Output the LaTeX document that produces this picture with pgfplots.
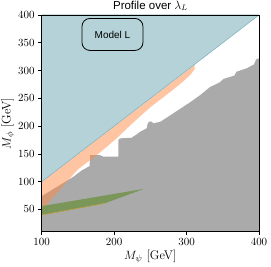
\documentclass[border=0pt]{standalone}
\usepackage{pgfplots}
\pgfplotsset{compat=1.18}
\usepackage{fontspec}
\setsansfont{Liberation Sans}
\definecolor{blueregion}{RGB}{181,210,216}
\definecolor{blueedge}{RGB}{120,175,188}
\definecolor{grayregion}{RGB}{170,170,170}
\definecolor{orangeregion}{RGB}{255,140,70}
\definecolor{greenregion}{RGB}{122,150,88}
\definecolor{greenedge}{RGB}{185,160,70}
\begin{document}
\begin{tikzpicture}
\path[use as bounding box] (-41.7pt,-35.3pt) rectangle (229.3pt,231.7pt);
\begin{axis}[
  at={(0pt,0pt)}, anchor=south west,
  scale only axis, width=217.3pt, height=216.7pt,
  xmin=100, xmax=400, ymin=10, ymax=400,
  xtick={100,200,300,400}, ytick={50,100,...,400},
  tick align=outside, tick pos=left,
  major tick length=3.5pt,
  axis line style={line width=0.6pt},
  tick style={line width=0.6pt, black},
  tick label style={font=\fontsize{11}{12}\selectfont},
  xlabel={$M_\psi$ [GeV]}, ylabel={$M_\phi$ [GeV]},
  label style={font=\fontsize{12.5}{14}\selectfont},
  xlabel style={yshift=3pt},
  ylabel style={yshift=-3pt},
  title={Profile over $\lambda_L$},
  title style={font=\sffamily\fontsize{11.5}{13}\selectfont, yshift=-5.5pt},
  axis on top,
  clip=true,
]
% gray excluded region
\addplot[fill=grayregion, draw=none] coordinates {
(100,10) (400,10) (400,322) (396,320) (393,311) (383,304) (369,298) (366,291)
(351,285) (346,279) (332,270) (319,256) (305,243) (291,231) (277,219) (264,208)
(254,205) (252,208) (248,208) (246,203) (245,196) (236,190) (231,185) (224,179)
(208,178) (206,175) (206,145) (185,145) (180,148) (167,148) (166,128) (155,120)
(144,109) (100,74)
} -- cycle;
% orange band
\addplot[fill=orangeregion, fill opacity=0.5, draw=none] coordinates {
(100,99.5) (311,310) (311,302) (305,292) (295,280) (280,264) (250,234)
(226,206) (205,180) (190,163) (178,150) (167,138) (164,136) (150,122) (143,112)
(120,78) (100,48)
} -- cycle;
% green band
\addplot[fill=greenregion, draw=none] coordinates {
(100,40) (187,61) (241,87) (100,56)
} -- cycle;
\addplot[draw=greenedge, line width=0.7pt] coordinates {(100,40) (187,61)};
% blue region
\addplot[fill=blueregion, draw=blueedge, line width=0.5pt] coordinates {
(100,100) (400,400) (100,400)
} -- cycle;
\node[draw=black, line width=0.8pt, rounded corners=8pt, minimum width=61pt,
  minimum height=32pt, font=\sffamily\fontsize{10}{12}\selectfont]
  at (axis cs:197.7,365) {Model L};
\end{axis}
\end{tikzpicture}
\end{document}
